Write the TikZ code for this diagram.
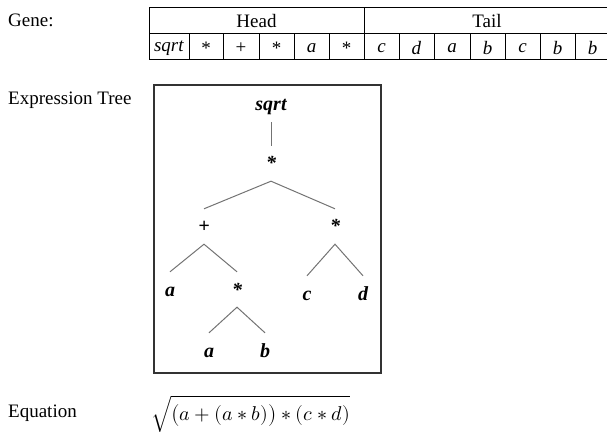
\documentclass[tikz,border=0pt]{standalone}
\usepackage{unicode-math}
\setmainfont{Liberation Serif}
\setmathfont{Latin Modern Math}
\usetikzlibrary{positioning}
\tikzset{
  lbl/.style={anchor=west, inner sep=0pt, font=\fontsize{19}{22}\selectfont},
  cell/.style={inner sep=0pt, font=\fontsize{19}{22}\selectfont},
  tnode/.style={anchor=base, inner sep=4pt, text height=20pt, text depth=7pt,
                font=\fontsize{20}{24}\selectfont\bfseries\itshape},
  branch/.style={draw=black!55, line width=1pt},
}

\begin{document}
\begin{tikzpicture}[x=1pt, y=-1pt]
    \useasboundingbox (0,0) rectangle (607,438);
    % Labels
    \node[lbl] (gene) at (8,20) {Gene:};
    \node[lbl] (treelbl) at (8,100) {Expression Tree};
    \node[lbl] (eqlbl) at (8,413) {Equation};
    % Gene table
    \draw[line width=1pt] (149,8) -- (610,8) (149,34) -- (610,34) (149,60) -- (610,60);
    \draw[line width=1pt] (149,8) -- (149,60) (364,8) -- (364,60);
    \foreach \x in {189,223,259,294,329,399,434,470,505,540,575}
      \draw[line width=1pt] (\x,34) -- (\x,60);
    \node[cell] (head) at (256.5,21) {Head};
    \node[cell] (tail) at (487,21) {Tail};
    \foreach \x/\s [count=\i] in {169/\textit{sqrt},206/*,241/+,276.5/*,311.5/\textit{a},346.5/*,
        381.5/\textit{c},416.5/\textit{d},452/\textit{a},487.5/\textit{b},522.5/\textit{c},557.5/\textit{b},592.5/\textit{b}}
      \node[cell] (g\i) at (\x,48) {\s};
    % Expression tree
    \draw[black!80, line width=1.5pt] (154,85) rectangle (381,373);
    \node[tnode] (root) at (271,111) {sqrt};
    \node[tnode] (m1) at (271,170) {*};
    \node[tnode] (plus) at (204,233) {\textbf{+}};
    \node[tnode] (m2) at (335,233) {*};
    \node[tnode] (a1) at (170,296) {a};
    \node[tnode] (m3) at (237,296) {*};
    \node[tnode] (c1) at (307,300) {c};
    \node[tnode] (d1) at (363,300) {d};
    \node[tnode] (a2) at (209,357) {a};
    \node[tnode] (b1) at (265,357) {b};
    \draw[branch] (root.south) -- (m1.north);
    \draw[branch] (plus.north) -- (m1.south) -- (m2.north);
    \draw[branch] (a1.north) -- (plus.south) -- (m3.north);
    \draw[branch] (a2.north) -- (m3.south) -- (b1.north);
    \draw[branch] (c1.north) -- (m2.south) -- (d1.north);
    % Equation
    \node[anchor=west, inner sep=0pt, font=\fontsize{20}{24}\selectfont] (eq) at (151,414)
      {$\sqrt{\bigl(a+(a\ast b)\bigr)\ast(c\ast d)}$};
\end{tikzpicture}
\end{document}
